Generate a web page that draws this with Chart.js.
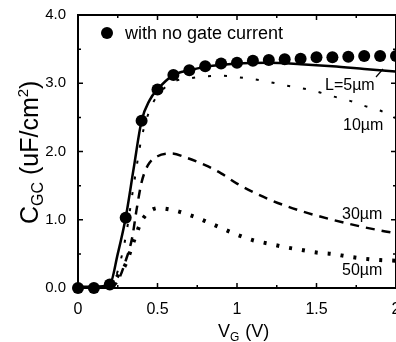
<!DOCTYPE html>
<html>
<head>
<meta charset="utf-8">
<script src="https://cdn.jsdelivr.net/npm/chart.js@4/dist/chart.umd.min.js"></script>
<style>
html,body{margin:0;padding:0;overflow:hidden;background:#fff}
#wrap{width:412px;height:342px}
</style>
</head>
<body>
<div id="wrap"><canvas id="myChart"></canvas></div>
<script>
// measured points, "with no gate current"
const vgDots  = [0,0.1,0.2,0.3,0.4,0.5,0.6,0.7,0.8,0.9,1.0,1.1,1.2,1.3,1.4,1.5,1.6,1.7,1.8,1.9,2.0];
const cgcDots = [0,0,0.05,1.03,2.45,2.91,3.12,3.19,3.25,3.29,3.30,3.33,3.34,3.35,3.36,3.38,3.38,3.39,3.40,3.40,3.40];

// L = 5um
const vg5  = [0,0.1,0.2,0.25,0.3,0.35,0.4,0.45,0.5,0.6,0.7,0.8,1.0,1.2,1.4,1.6,1.8,2.0];
const cgc5 = [0.02,0.02,0.05,0.5,1.03,1.75,2.45,2.75,2.91,3.12,3.19,3.24,3.29,3.30,3.28,3.25,3.21,3.17];
// L = 10um
const vg10  = [0.2,0.25,0.3,0.35,0.4,0.45,0.5,0.6,0.7,0.8,0.9,1.0,1.1,1.2,1.3,1.4,1.5,1.6,1.7,1.8,1.9,2.0];
const cgc10 = [0,0.25,0.75,1.5,2.2,2.6,2.82,3.02,3.07,3.10,3.11,3.09,3.06,3.02,2.97,2.93,2.88,2.81,2.75,2.67,2.60,2.49];
// L = 30um
const vg30  = [0.2,0.25,0.3,0.34,0.37,0.4,0.44,0.5,0.59,0.68,0.8,0.9,1.0,1.2,1.4,1.6,1.8,2.0];
const cgc30 = [0,0.1,0.4,0.73,1.17,1.55,1.8,1.93,1.97,1.91,1.80,1.68,1.53,1.30,1.13,1.0,0.89,0.80];
// L = 50um
const vg50  = [0.2,0.25,0.3,0.35,0.4,0.45,0.5,0.6,0.7,0.8,0.9,1.0,1.1,1.2,1.3,1.4,1.5,1.6,1.7,1.8,1.9,2.0];
const cgc50 = [0,0.18,0.35,0.68,0.98,1.12,1.17,1.14,1.07,0.98,0.88,0.78,0.70,0.65,0.60,0.56,0.52,0.50,0.46,0.43,0.41,0.40];

const xTicks = [0,0.5,1,1.5,2];
const xTickLabels = ['0','0.5','1','1.5','2'];
const yTicks = [0,1,2,3,4];
const yTickLabels = ['0.0','1.0','2.0','3.0','4.0'];

const FONT = "'Liberation Sans', Arial, sans-serif";
const pts = (xs, ys) => xs.map((x, i) => ({x: x, y: ys[i]}));

const curve = (data, dash, width) => ({
  data: data, showLine: true, borderColor: '#000', borderWidth: width,
  borderDash: dash, pointRadius: 0, cubicInterpolationMode: 'monotone', order: 1
});

const overlay = {
  id: 'overlay',
  afterDatasetsDraw(chart) {
    const ctx = chart.ctx, a = chart.chartArea;
    const sx = chart.scales.x, sy = chart.scales.y;
    ctx.save();
    ctx.strokeStyle = '#000';
    ctx.lineWidth = 2;
    ctx.beginPath();
    ctx.moveTo(a.left, a.top); ctx.lineTo(a.right, a.top); ctx.lineTo(a.right, a.bottom);
    ctx.stroke();
    ctx.lineWidth = 1.5;
    ctx.beginPath();
    for (let v = 0; v <= 2.001; v += 0.25) {
      const x = sx.getPixelForValue(v);
      const len = Math.abs(v * 2 - Math.round(v * 2)) < 0.01 ? 5 : 3;
      ctx.moveTo(x, a.bottom); ctx.lineTo(x, a.bottom - len);
      ctx.moveTo(x, a.top); ctx.lineTo(x, a.top + len);
    }
    for (let v = 0; v <= 4.001; v += 0.5) {
      const y = sy.getPixelForValue(v);
      const len = Math.abs(v - Math.round(v)) < 0.01 ? 5 : 3;
      ctx.moveTo(a.left, y); ctx.lineTo(a.left + len, y);
      ctx.moveTo(a.right, y); ctx.lineTo(a.right - len, y);
    }
    ctx.stroke();
    ctx.restore();
  },
  afterDraw(chart) {
    const ctx = chart.ctx;
    ctx.save();
    ctx.fillStyle = '#000';
    ctx.textBaseline = 'alphabetic';
    // legend
    ctx.beginPath(); ctx.arc(107, 33, 6, 0, Math.PI * 2); ctx.fill();
    ctx.font = '18px ' + FONT;
    ctx.fillText('with no gate current', 125, 39);
    // curve labels
    ctx.font = '16px ' + FONT;
    ctx.fillText('L=5\u00b5m', 325, 90);
    ctx.fillText('10\u00b5m', 343, 130);
    ctx.fillText('30\u00b5m', 342, 219);
    ctx.fillText('50\u00b5m', 342, 275);
    ctx.lineWidth = 1.2;
    ctx.beginPath(); ctx.moveTo(376, 77); ctx.lineTo(383, 69); ctx.stroke();
    // x title
    let x = 218;
    ctx.font = '18px ' + FONT;
    ctx.fillText('V', x, 337); x += ctx.measureText('V').width;
    ctx.font = '12px ' + FONT;
    ctx.fillText('G', x, 341); x += ctx.measureText('G').width + 1;
    ctx.font = '18px ' + FONT;
    ctx.fillText(' (V)', x, 337);
    // y title
    ctx.translate(38, 224);
    ctx.rotate(-Math.PI / 2);
    const parts = [['C', 25, 0], ['GC', 16, 5], [' (uF/cm', 25, 0], ['2', 15, -10], [')', 25, 0]];
    x = 0;
    parts.forEach(p => {
      ctx.font = p[1] + 'px ' + FONT;
      ctx.fillText(p[0], x, p[2]);
      x += ctx.measureText(p[0]).width;
    });
    ctx.restore();
  }
};

const ctx = document.getElementById('myChart').getContext('2d');
const myChart = new Chart(ctx, {
  type: 'scatter',
  data: {
    datasets: [
      {label: 'with no gate current', data: pts(vgDots, cgcDots), showLine: false,
       pointRadius: 6, pointBorderWidth: 0, backgroundColor: '#000', borderColor: '#000',
       clip: false, order: 0},
      curve(pts(vg5, cgc5), [], 2.5),
      curve(pts(vg10, cgc10), [3, 13], 2),
      curve(pts(vg30, cgc30), [9, 7], 2.5),
      curve(pts(vg50, cgc50), [3, 10], 4)
    ]
  },
  options: {
    responsive: true,
    maintainAspectRatio: false,
    animation: false,
    layout: {padding: {top: 15, right: 16, left: 0, bottom: 0}},
    plugins: {legend: {display: false}, tooltip: {enabled: false}},
    scales: {
      x: {
        type: 'linear', min: 0, max: 2,
        afterBuildTicks: s => { s.ticks = xTicks.map(v => ({value: v})); },
        afterFit: s => { s.height = 54; },
        grid: {display: false},
        border: {display: true, color: '#000', width: 2},
        ticks: {color: '#000', padding: 4, maxRotation: 0, autoSkip: false,
                font: {family: FONT, size: 16},
                callback: (v, i) => xTickLabels[i]}
      },
      y: {
        type: 'linear', min: 0, max: 4,
        afterBuildTicks: s => { s.ticks = yTicks.map(v => ({value: v})); },
        afterFit: s => { s.width = 78; },
        grid: {display: false},
        border: {display: true, color: '#000', width: 2},
        ticks: {color: '#000', padding: 4, autoSkip: false,
                font: {family: FONT, size: 15},
                callback: (v, i) => yTickLabels[i]}
      }
    }
  },
  plugins: [overlay]
});
</script>
</body>
</html>
